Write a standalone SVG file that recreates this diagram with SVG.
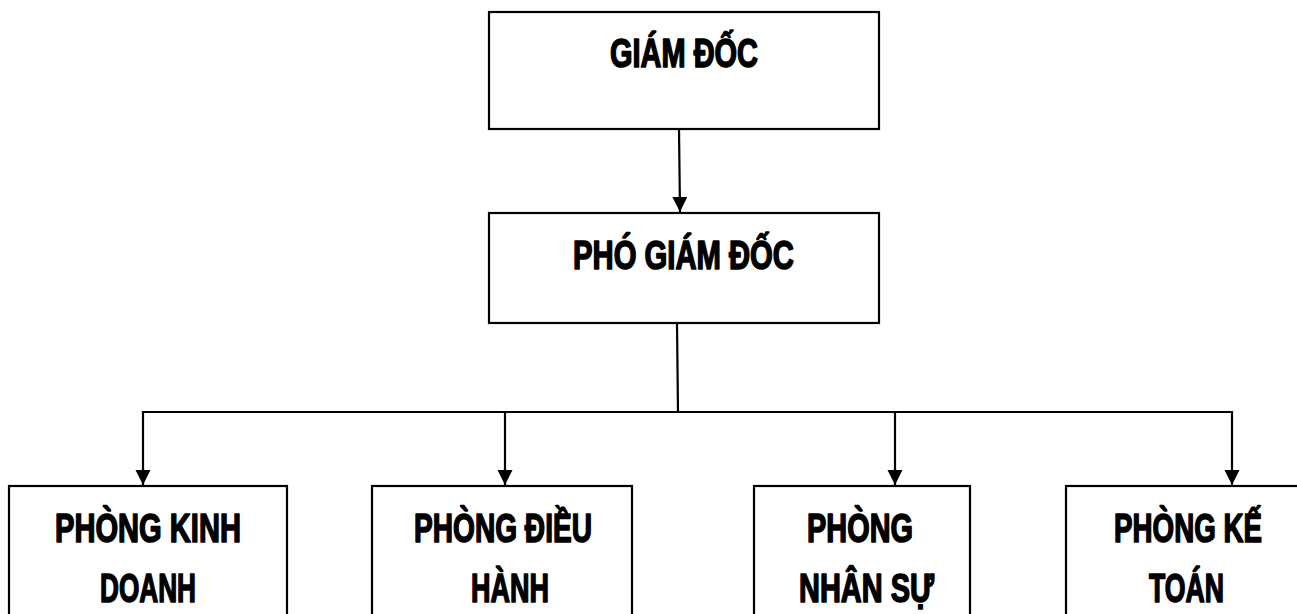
<svg xmlns="http://www.w3.org/2000/svg" width="1297" height="614" viewBox="0 0 1297 614">
  <style>
    .box { fill: #ffffff; stroke: #000000; stroke-width: 2.2; }
    .lbl { font-family: "Liberation Sans", Arial, sans-serif; font-weight: bold; font-size: 40px; fill: #000000; stroke: #000000; stroke-width: 1.6; stroke-linejoin: round; text-anchor: middle; }
    .wire { fill: none; stroke: #000000; stroke-width: 2.2; }
  </style>
  <defs>
    <marker id="arrow" markerUnits="userSpaceOnUse" markerWidth="16" markerHeight="16" viewBox="0 0 16 16" refX="15" refY="7.5" orient="auto">
      <path d="M0,0 L15,7.5 L0,15 z" fill="#000000"/>
    </marker>
  </defs>
  <rect width="1297" height="614" fill="#ffffff"/>

  <!-- connectors -->
  <g id="connectors">
    <path class="wire" d="M679,129 L680,212" marker-end="url(#arrow)"/>
    <path class="wire" d="M677,323 L678,412"/>
    <path class="wire" d="M143,412 L1232,412"/>
    <path class="wire" d="M143,411 L143,485" marker-end="url(#arrow)"/>
    <path class="wire" d="M505,411 L505,485" marker-end="url(#arrow)"/>
    <path class="wire" d="M895,411 L895,485" marker-end="url(#arrow)"/>
    <path class="wire" d="M1232,411 L1232,485" marker-end="url(#arrow)"/>
  </g>

  <!-- director -->
  <g id="giam-doc">
    <rect class="box" x="489" y="12" width="390" height="117"/>
    <text class="lbl" x="684" y="67" textLength="148" lengthAdjust="spacingAndGlyphs">GIÁM ĐỐC</text>
  </g>

  <!-- deputy director -->
  <g id="pho-giam-doc">
    <rect class="box" x="489" y="213" width="390" height="110"/>
    <text class="lbl" x="683.5" y="269" textLength="221" lengthAdjust="spacingAndGlyphs">PHÓ GIÁM ĐỐC</text>
  </g>

  <!-- departments -->
  <g id="phong-kinh-doanh">
    <rect class="box" x="9" y="486" width="278" height="140"/>
    <text class="lbl" x="148" y="542" textLength="186" lengthAdjust="spacingAndGlyphs">PHÒNG KINH</text>
    <text class="lbl" x="148" y="602" textLength="96" lengthAdjust="spacingAndGlyphs">DOANH</text>
  </g>

  <g id="phong-dieu-hanh">
    <rect class="box" x="372" y="486" width="260" height="140"/>
    <text class="lbl" x="503" y="542" textLength="178" lengthAdjust="spacingAndGlyphs">PHÒNG ĐIỀU</text>
    <text class="lbl" x="510" y="602" textLength="78" lengthAdjust="spacingAndGlyphs">HÀNH</text>
  </g>

  <g id="phong-nhan-su">
    <rect class="box" x="754" y="486" width="216" height="140"/>
    <text class="lbl" x="860" y="542" textLength="106" lengthAdjust="spacingAndGlyphs">PHÒNG</text>
    <text class="lbl" x="866.5" y="602" textLength="135" lengthAdjust="spacingAndGlyphs">NHÂN SỰ</text>
  </g>

  <g id="phong-ke-toan">
    <rect class="box" x="1066" y="486" width="250" height="140"/>
    <text class="lbl" x="1188" y="542" textLength="148" lengthAdjust="spacingAndGlyphs">PHÒNG KẾ</text>
    <text class="lbl" x="1186.5" y="602" textLength="75" lengthAdjust="spacingAndGlyphs">TOÁN</text>
  </g>
</svg>
